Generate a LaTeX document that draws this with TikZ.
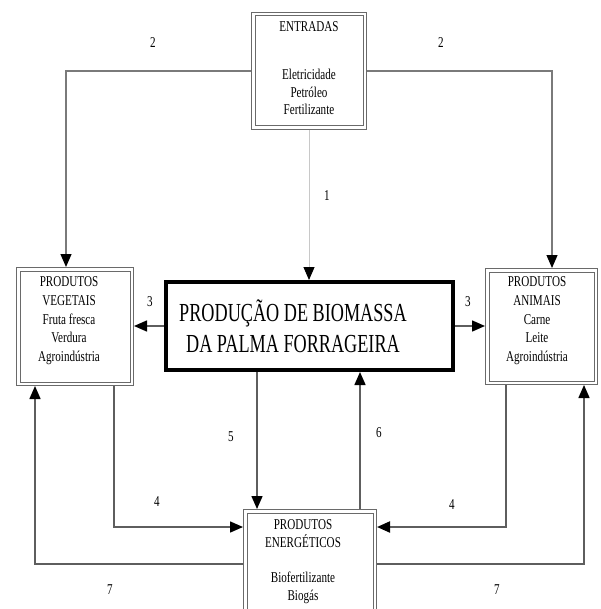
\documentclass[tikz,border=0pt]{standalone}
\usepackage{fontspec}
\setmainfont{Liberation Serif}
\newfontfamily\smallserif[FakeStretch=0.74]{Liberation Serif}
\newfontfamily\bigserif[FakeStretch=0.7]{Liberation Serif}
\usetikzlibrary{arrows.meta,positioning}
\definecolor{lngray}{HTML}{5E5E5E}
\definecolor{lnlight}{HTML}{C8C8C8}
\definecolor{lnmid}{HTML}{7A7A7A}
\definecolor{boxgray}{HTML}{6A6A6A}

\begin{document}
\begin{tikzpicture}[x=1pt,y=-1pt,
  dbox/.style={draw=boxgray,double=white,double distance=2.5pt,line width=1pt,outer sep=2.25pt},
  mainbox/.style={draw=black,line width=4pt},
  txt/.style={font=\smallserif\fontsize{15}{18.6}\selectfont,align=center,inner sep=0pt},
  num/.style={font=\smallserif\fontsize{15}{18}\selectfont,inner sep=0pt},
  tip/.style={-{Triangle[length=13pt,width=11pt,color=black]}},
  arr/.style={tip,draw=lngray,line width=1.5pt},
  arrthin/.style={tip,draw=lnlight,line width=1pt},
  arrmid/.style={tip,draw=lnmid,line width=1.2pt},
  arrthick/.style={tip,draw=lngray,line width=2pt}
]
\useasboundingbox (0,0) rectangle (600,609);
\fill[white] (0,0) rectangle (600,609);
\clip (0,0) rectangle (600,609);

% caixas
\node[dbox,minimum width=111.5pt,minimum height=113.5pt] (ent) at (309,71) {};
\node[dbox,minimum width=113.5pt,minimum height=114.5pt] (veg) at (75,326.5) {};
\node[dbox,minimum width=108.5pt,minimum height=112.5pt] (ani) at (541.5,326.5) {};
\node[mainbox,minimum width=287pt,minimum height=88pt] (main) at (309.5,326) {};
\node[dbox,minimum width=129.5pt,minimum height=105.5pt] (ene) at (310,564) {};

% textos
\node[txt,font=\smallserif\fontsize{15}{17.5}\selectfont,below=9.7pt of ent.north] (enttxt)
  {ENTRADAS\\[30.5pt]Eletricidade\\Petróleo\\Fertilizante};
\node[txt,below=9.7pt of veg.north,xshift=-6pt] (vegtxt)
  {PRODUTOS\\VEGETAIS\\Fruta fresca\\Verdura\\Agroindústria};
\node[txt,below=8.7pt of ani.north,xshift=-4.5pt] (anitxt)
  {PRODUTOS\\ANIMAIS\\Carne\\Leite\\Agroindústria};
\node[txt,font=\smallserif\fontsize{15}{18}\selectfont,below=10.7pt of ene.north,xshift=-7pt] (enetxt)
  {PRODUTOS\\ENERGÉTICOS\\[17pt]Biofertilizante\\Biogás};
\node[align=center,inner sep=0pt,font=\bigserif\fontsize{26}{31}\selectfont] (maintxt)
  at ([xshift=-16.5pt]main.center) {PRODUÇÃO DE BIOMASSA\\DA PALMA FORRAGEIRA};

% fluxos
\draw[arrthin] (ent.south) -- (ent.south |- main.north);
\draw[arrmid] (ent.west) -| ([xshift=-9pt]veg.north);
\draw[arrmid] (ent.east) -| ([xshift=10.5pt]ani.north);
\draw[arr] (main.west) -- (main.west -| veg.east);
\draw[arr] (main.east) -- (main.east -| ani.west);
\draw[arr] ([xshift=-52.5pt]main.south) -- ([xshift=-52.5pt]main.south |- ene.north);
\draw[arr] ([xshift=50pt]ene.north) -- ([xshift=50pt]ene.north |- main.south);
\draw[arr] ([xshift=39pt]veg.south) |- ([yshift=37pt]ene.west);
\draw[arrthick] ([xshift=-35.5pt]ani.south) |- ([yshift=37pt]ene.east);
\draw[arr] (ene.west) -| ([xshift=-40pt]veg.south);
\draw[arr] (ene.east) -| ([xshift=42.5pt]ani.south);

% numeros
\node[num] (n1) at (327,196) {1};
\node[num] (n2a) at (153,43) {2};
\node[num] (n2b) at (441,43) {2};
\node[num] (n3a) at (150,302) {3};
\node[num] (n3b) at (468,302) {3};
\node[num] (n4a) at (157,502) {4};
\node[num] (n4b) at (452,505) {4};
\node[num] (n5) at (231,437) {5};
\node[num] (n6) at (379,433) {6};
\node[num] (n7a) at (110,590) {7};
\node[num] (n7b) at (497,590) {7};
\end{tikzpicture}
\end{document}
